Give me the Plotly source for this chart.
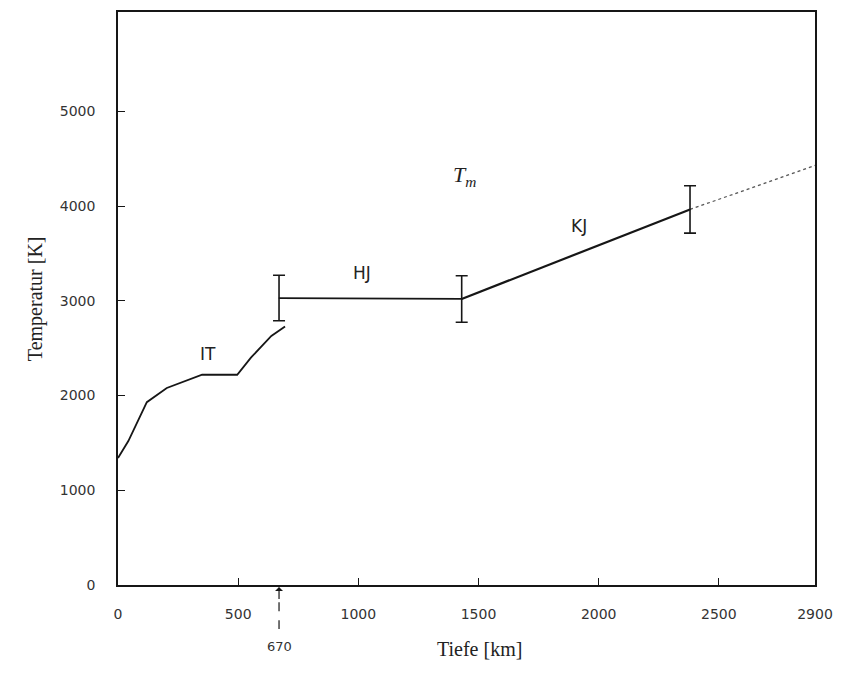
import plotly.graph_objects as go

# ---- data ----
it_depth = [0, 43, 120, 203, 350, 496, 553, 638, 695]
it_temp = [1340, 1520, 1930, 2080, 2220, 2220, 2400, 2630, 2730]

hj_depth = [670, 1430]
hj_temp = [3030, 3020]

kj_depth = [1430, 2380]
kj_temp = [3020, 3965]

ext_depth = [2380, 2900]
ext_temp = [3965, 4430]

err_depth = [670, 1430, 2380]
err_temp = [3030, 3020, 3965]
err_size = [240, 245, 250]

x_tickvals = [0, 500, 1000, 1500, 2000, 2500, 2900]
x_ticktext = ["0", "500", "1000", "1500", "2000", "2500", "2900"]
y_tickvals = [0, 1000, 2000, 3000, 4000, 5000]
y_ticktext = ["0", "1000", "2000", "3000", "4000", "5000"]

labels = [("IT", 374, 2440), ("HJ", 1014, 3295), ("KJ", 1919, 3790)]
tm_pos = (1442, 4316)
marker_depth = 670

INK = "#161616"
SANS = "DejaVu Sans"
SERIF = "Liberation Serif"

fig = go.Figure()
fig.add_trace(go.Scatter(x=it_depth, y=it_temp, mode="lines",
                         line=dict(color=INK, width=1.8), showlegend=False))
fig.add_trace(go.Scatter(x=hj_depth, y=hj_temp, mode="lines",
                         line=dict(color=INK, width=1.8), showlegend=False))
fig.add_trace(go.Scatter(x=kj_depth, y=kj_temp, mode="lines",
                         line=dict(color=INK, width=2.2), showlegend=False))
fig.add_trace(go.Scatter(x=ext_depth, y=ext_temp, mode="lines",
                         line=dict(color="#555555", width=1.3, dash="dot"), showlegend=False))
fig.add_trace(go.Scatter(x=err_depth, y=err_temp, mode="markers",
                         marker=dict(size=1, color=INK),
                         error_y=dict(type="data", array=err_size, visible=True,
                                      color=INK, thickness=1.6, width=6),
                         showlegend=False))

for txt, xx, yy in labels:
    fig.add_annotation(x=xx, y=yy, text=txt, showarrow=False,
                       font=dict(family=SANS, size=17, color="#222222"))
fig.add_annotation(x=tm_pos[0], y=tm_pos[1], text="<i>T<sub>m</sub></i>", showarrow=False,
                   font=dict(family=SERIF, size=22, color="#222222"))

# arrow marking 670 km: label with a short solid arrow head, dashed stem below
fig.add_annotation(x=marker_depth, y=0, xref="x", yref="y", text="670", showarrow=True,
                   ax=0, ay=61, arrowhead=1, arrowsize=1.1, arrowwidth=1.2,
                   arrowcolor=INK, standoff=2, startstandoff=38,
                   font=dict(family=SANS, size=13, color="#333333"))
fig.add_shape(type="line", xref="x", yref="paper", x0=marker_depth, x1=marker_depth,
              y0=-0.030, y1=-0.077, line=dict(color=INK, width=1.2, dash="dash"))

# axis titles
fig.add_annotation(x=0.519, y=-0.134, xref="paper", yref="paper", text="Tiefe [km]",
                   showarrow=False, font=dict(family=SERIF, size=20, color="#222222"))
fig.add_annotation(x=-0.1375, y=0.50, xref="paper", yref="paper", text="Temperatur [K]",
                   textangle=-90, showarrow=False,
                   font=dict(family=SERIF, size=20, color="#222222"))

fig.update_xaxes(range=[0, 2900], tickvals=x_tickvals, ticktext=x_ticktext,
                 ticks="inside", ticklen=7, tickwidth=1.3, tickcolor=INK,
                 showline=True, linecolor=INK, linewidth=1.6, mirror=True,
                 showgrid=False, zeroline=False, ticklabelstandoff=15,
                 tickfont=dict(family=SANS, size=14, color="#333333"))
fig.update_yaxes(range=[0, 6050], tickvals=y_tickvals, ticktext=y_ticktext,
                 ticks="inside", ticklen=7, tickwidth=1.3, tickcolor=INK,
                 showline=True, linecolor=INK, linewidth=1.6, mirror=True,
                 showgrid=False, zeroline=False, ticklabelstandoff=18,
                 tickfont=dict(family=SANS, size=14, color="#333333"))

fig.update_layout(width=843, height=680, margin=dict(l=118, r=27, t=10, b=95),
                  paper_bgcolor="white", plot_bgcolor="white")

fig.write_html("out.html")
